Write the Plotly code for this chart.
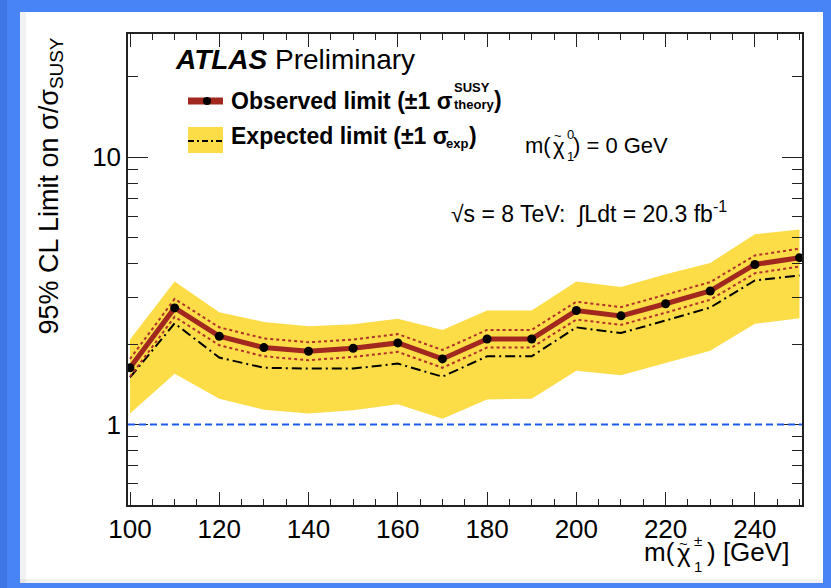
import math
import plotly.graph_objects as go

# Chargino mass points [GeV]
mass = [100, 110, 120, 130, 140, 150, 160, 170, 180, 190, 200, 210, 220, 230, 240, 250]

# Observed 95% CL limit on sigma/sigma_SUSY with +-1 sigma theory variations
obs = [1.63, 2.73, 2.14, 1.94, 1.88, 1.93, 2.02, 1.76, 2.09, 2.09, 2.67, 2.55, 2.83, 3.16, 3.97, 4.21]
obs_up = [1.76, 2.95, 2.31, 2.10, 2.03, 2.08, 2.18, 1.90, 2.26, 2.26, 2.88, 2.75, 3.06, 3.41, 4.29, 4.55]
obs_down = [1.51, 2.53, 1.98, 1.80, 1.74, 1.79, 1.87, 1.63, 1.94, 1.94, 2.47, 2.36, 2.62, 2.93, 3.68, 3.90]

# Expected limit and its +-1 sigma experimental band
exp_med = [1.50, 2.39, 1.78, 1.63, 1.62, 1.62, 1.69, 1.51, 1.80, 1.80, 2.31, 2.20, 2.45, 2.74, 3.46, 3.61]
exp_up = [2.08, 3.43, 2.63, 2.42, 2.33, 2.37, 2.49, 2.26, 2.67, 2.67, 3.43, 3.27, 3.65, 4.02, 5.15, 5.36]
exp_down = [1.10, 1.55, 1.25, 1.135, 1.10, 1.13, 1.19, 1.05, 1.24, 1.25, 1.59, 1.53, 1.70, 1.89, 2.38, 2.50]

x_major = [100, 120, 140, 160, 180, 200, 220, 240]
y_major = [1, 10]
y_major_text = ["1", "10"]
y_minor = [0.5, 0.6, 0.7, 0.8, 0.9, 2, 3, 4, 5, 6, 7, 8, 9, 20]

W, H = 831, 588
L, R, T, B = 128, 802, 34, 505  # plot area in pixels

FONT = "Liberation Sans, Arial, sans-serif"
YELLOW = "#FCDD48"
RED = "#A0281E"
BLUE_FRAME = "#4884F6"


def px(xp):
    return (xp - L) / (R - L)


def py(yp):
    return (B - yp) / (B - T)


fig = go.Figure()

# expected +-1 sigma band
fig.add_trace(go.Scatter(x=mass, y=exp_down, mode="lines", line=dict(width=0, color=YELLOW),
                         hoverinfo="skip", showlegend=False))
fig.add_trace(go.Scatter(x=mass, y=exp_up, mode="lines", line=dict(width=0, color=YELLOW),
                         fill="tonexty", fillcolor=YELLOW, hoverinfo="skip", showlegend=False))
# expected median
fig.add_trace(go.Scatter(x=mass, y=exp_med, mode="lines",
                         line=dict(color="black", width=2, dash="10px,4px,2px,4px"), showlegend=False))
# theory variations of the observed limit
for band in (obs_up, obs_down):
    fig.add_trace(go.Scatter(x=mass, y=band, mode="lines",
                             line=dict(color="#B0302A", width=2, dash="dot"), showlegend=False))
# observed limit
fig.add_trace(go.Scatter(x=mass, y=obs, mode="lines+markers",
                         line=dict(color=RED, width=5),
                         marker=dict(color="black", size=9), showlegend=False))

shapes = []
# reference line at 1
shapes.append(dict(type="line", xref="paper", yref="y", x0=0, x1=1, y0=1, y1=1,
                   line=dict(color="#1E5AF0", width=2, dash="7px,4px")))

# legend glyphs
shapes.append(dict(type="line", xref="paper", yref="paper", x0=px(188), x1=px(223), y0=py(101), y1=py(101),
                   line=dict(color=RED, width=7)))
shapes.append(dict(type="circle", xref="paper", yref="paper", x0=px(203), x1=px(211), y0=py(97), y1=py(105),
                   fillcolor="black", line=dict(width=0)))
shapes.append(dict(type="rect", xref="paper", yref="paper", x0=px(188), x1=px(223), y0=py(127), y1=py(153),
                   fillcolor=YELLOW, line=dict(width=0)))
shapes.append(dict(type="line", xref="paper", yref="paper", x0=px(188), x1=px(223), y0=py(141), y1=py(141),
                   line=dict(color="black", width=2, dash="6px,3px,2px,3px")))

# blue frame around the page, with a faint shadow on its inner edge
shapes.append(dict(type="rect", xref="paper", yref="paper", x0=px(20), x1=px(26), y0=py(583), y1=py(12),
                   fillcolor="rgba(0,0,0,0.05)", line=dict(width=0), layer="above"))
shapes.append(dict(type="rect", xref="paper", yref="paper", x0=px(20), x1=px(823), y0=py(583), y1=py(579),
                   fillcolor="rgba(0,0,0,0.05)", line=dict(width=0), layer="above"))
for x0, x1, y0, y1 in [(0, W, 0, 12), (0, W, 583, H), (0, 20, 0, H), (823, W, 0, H)]:
    shapes.append(dict(type="rect", xref="paper", yref="paper", x0=px(x0), x1=px(x1),
                       y0=py(y1), y1=py(y0), fillcolor=BLUE_FRAME, line=dict(width=0), layer="above"))
shapes.append(dict(type="rect", xref="paper", yref="paper", x0=px(0), x1=px(7), y0=py(H), y1=py(0),
                   fillcolor="#3F78E6", line=dict(width=0), layer="above"))

annotations = []


def text(xp, yp, s, size, xanchor="left", yanchor="middle", angle=0, color="black"):
    annotations.append(dict(x=px(xp), y=py(yp), xref="paper", yref="paper", text=s, showarrow=False,
                            xanchor=xanchor, yanchor=yanchor, textangle=angle,
                            font=dict(family=FONT, size=size, color=color)))


text(173, 60, "<b><i>ATLAS</i></b> Preliminary", 28)
text(229, 101, "<b>Observed limit (±1 σ</b>", 23)
text(452, 88, "<b>SUSY</b>", 13)
text(452, 105, "<b>theory</b>", 13)
text(492, 100, "<b>)</b>", 23)
text(229, 136, "<b>Expected limit (±1 σ</b>", 23)
text(444, 144, "<b>exp</b>", 13)
text(467, 136, "<b>)</b>", 23)

# m(chi_1^0) = 0 GeV
text(553, 146, "m(", 22, xanchor="right")
text(559, 147, "χ", 22, xanchor="center")
text(558, 136, "~", 13, xanchor="center")
text(565, 135, "0", 13)
text(565, 156, "1", 13)
text(571, 146, ") = 0 GeV", 22)

text(449, 212, "√s = 8 TeV:  ∫Ldt = 20.3 fb<sup>-1</sup>", 23)

# x-axis title m(chi_1^+-) [GeV]
text(677, 552, "m(", 26, xanchor="right")
text(684, 553, "χ", 26, xanchor="center")
text(683, 543, "~", 15, xanchor="center")
text(692, 540, "±", 15)
text(692, 566, "1", 15)
text(705, 552, ") [GeV]", 26)

text(50, 36, "95% CL Limit on σ/σ<sub>SUSY</sub>", 27, xanchor="center", yanchor="top", angle=-90)

fig.update_layout(
    width=W, height=H,
    margin=dict(l=L, r=W - R, t=T, b=H - B),
    paper_bgcolor="white", plot_bgcolor="white",
    showlegend=False,
    shapes=shapes, annotations=annotations,
    font=dict(family=FONT, color="black"),
)
fig.update_xaxes(
    range=[99.55, 250.56], showgrid=False, zeroline=False,
    showline=True, linecolor="#222", linewidth=1.5, mirror="allticks",
    ticks="inside", ticklen=13, tickwidth=1.2, tickcolor="#222",
    tickmode="array", tickvals=x_major, ticktext=[str(v) for v in x_major],
    tickfont=dict(family=FONT, size=26),
    minor=dict(ticks="inside", ticklen=6, tickwidth=1.2, tickcolor="#222", tick0=100, dtick=5, showgrid=False),
)
fig.update_yaxes(
    type="log", range=[math.log10(0.5), 1.461], showgrid=False, zeroline=False,
    showline=True, linecolor="#222", linewidth=1.5, mirror="allticks",
    ticks="inside", ticklen=20, tickwidth=1.2, tickcolor="#222",
    tickmode="array", tickvals=y_major, ticktext=y_major_text,
    tickfont=dict(family=FONT, size=26),
    minor=dict(ticks="inside", ticklen=10, tickwidth=1.2, tickcolor="#222",
               tickmode="array", tickvals=y_minor, showgrid=False),
)

fig.write_html("out.html")
